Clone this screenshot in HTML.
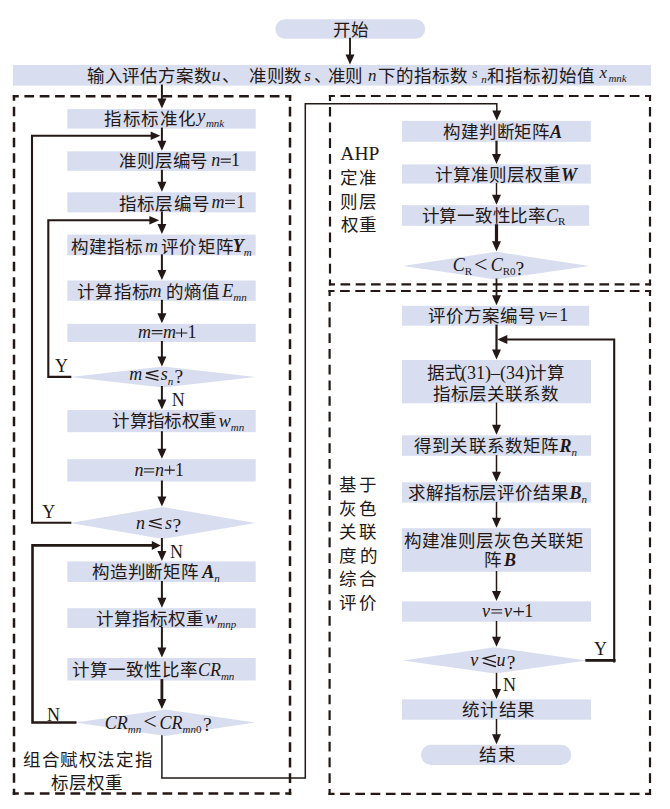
<!DOCTYPE html>
<html lang="zh-CN"><head><meta charset="utf-8"><title>flowchart</title>
<style>html,body{margin:0;padding:0;background:#fff;overflow:hidden}svg{display:block;font-family:"Liberation Serif",serif}text{fill:#231815}</style>
</head><body>
<svg width="670" height="809" viewBox="0 0 670 809">
<rect x="275.3" y="19.2" width="149.9" height="19.6" rx="9.8" fill="#d8def0"/>
<rect x="12.9" y="65" width="638.1" height="20.6" rx="0" fill="#d8def0"/>
<rect x="67.3" y="109.1" width="188.4" height="19.5" rx="0" fill="#d8def0"/>
<rect x="67.3" y="151.3" width="188.4" height="19.5" rx="0" fill="#d8def0"/>
<rect x="67.3" y="192.3" width="188.4" height="20.1" rx="0" fill="#d8def0"/>
<rect x="67.3" y="234.6" width="188.4" height="20.7" rx="0" fill="#d8def0"/>
<rect x="67.3" y="280.5" width="188.4" height="20.3" rx="0" fill="#d8def0"/>
<rect x="67.3" y="323.8" width="188.4" height="18.2" rx="0" fill="#d8def0"/>
<rect x="67.3" y="410" width="188.4" height="22.2" rx="0" fill="#d8def0"/>
<rect x="67.3" y="459.2" width="188.4" height="22.3" rx="0" fill="#d8def0"/>
<rect x="67.3" y="561.4" width="188.4" height="20.6" rx="0" fill="#d8def0"/>
<rect x="67.3" y="608.2" width="188.4" height="19.8" rx="0" fill="#d8def0"/>
<rect x="67.3" y="658" width="188.4" height="22.5" rx="0" fill="#d8def0"/>
<path d="M70.3 377L162.95 366.5L255.6 377L162.95 387.5Z" fill="#d8def0"/>
<path d="M70.3 523L162.8 507L255.3 523L162.8 539Z" fill="#d8def0"/>
<path d="M75.2 722.6L165.25 709.5L255.3 722.6L165.25 735.9Z" fill="#d8def0"/>
<rect x="402" y="120.9" width="188.8" height="20.9" rx="0" fill="#d8def0"/>
<rect x="402" y="164.4" width="188.8" height="19.2" rx="0" fill="#d8def0"/>
<rect x="402" y="205.2" width="187.2" height="20.6" rx="0" fill="#d8def0"/>
<rect x="402" y="305.8" width="187.2" height="19.9" rx="0" fill="#d8def0"/>
<rect x="402" y="360" width="189" height="43.3" rx="0" fill="#d8def0"/>
<rect x="402" y="435.3" width="189" height="20.5" rx="0" fill="#d8def0"/>
<rect x="402" y="482.3" width="189" height="20.3" rx="0" fill="#d8def0"/>
<rect x="402" y="528.2" width="189" height="43.6" rx="0" fill="#d8def0"/>
<rect x="402" y="601.4" width="189" height="20.3" rx="0" fill="#d8def0"/>
<rect x="402" y="699.4" width="189" height="20.3" rx="0" fill="#d8def0"/>
<path d="M403 266L496.15 251.8L589.3 266L496.15 279.4Z" fill="#d8def0"/>
<path d="M402.8 660.4L494.75 647.3L586.7 660.4L494.75 673.6Z" fill="#d8def0"/>
<rect x="421" y="744.8" width="150.2" height="20.2" rx="10" fill="#d8def0"/>
<path d="M12.75 96.3L291.25 96.3" stroke="#231815" stroke-width="2.5" stroke-dasharray="6.00,5.64,9.70,5.64,9.70,5.64,9.70,5.64,9.70,5.64,9.70,5.64,9.70,5.64,9.70,5.64,9.70,5.64,9.70,5.64,9.70,5.64,9.70,5.64,9.70,5.64,9.70,5.64,9.70,5.64,9.70,5.64,9.70,5.64,9.70,5.64,8.00" fill="none"/>
<path d="M290 95.05L290 794.65" stroke="#231815" stroke-width="2.5" stroke-dasharray="6.00,5.80,9.70,5.80,9.70,5.80,9.70,5.80,9.70,5.80,9.70,5.80,9.70,5.80,9.70,5.80,9.70,5.80,9.70,5.80,9.70,5.80,9.70,5.80,9.70,5.80,9.70,5.80,9.70,5.80,9.70,5.80,9.70,5.80,9.70,5.80,9.70,5.80,9.70,5.80,9.70,5.80,9.70,5.80,9.70,5.80,9.70,5.80,9.70,5.80,9.70,5.80,9.70,5.80,9.70,5.80,9.70,5.80,9.70,5.80,9.70,5.80,9.70,5.80,9.70,5.80,9.70,5.80,9.70,5.80,9.70,5.80,9.70,5.80,9.70,5.80,9.70,5.80,9.70,5.80,9.70,5.80,9.70,5.80,9.70,5.80,9.70,5.80,9.70,5.80,8.00" fill="none"/>
<path d="M291.25 793.4L12.75 793.4" stroke="#231815" stroke-width="2.5" stroke-dasharray="6.00,5.64,9.70,5.64,9.70,5.64,9.70,5.64,9.70,5.64,9.70,5.64,9.70,5.64,9.70,5.64,9.70,5.64,9.70,5.64,9.70,5.64,9.70,5.64,9.70,5.64,9.70,5.64,9.70,5.64,9.70,5.64,9.70,5.64,9.70,5.64,8.00" fill="none"/>
<path d="M14 794.65L14 95.05" stroke="#231815" stroke-width="2.5" stroke-dasharray="6.00,5.80,9.70,5.80,9.70,5.80,9.70,5.80,9.70,5.80,9.70,5.80,9.70,5.80,9.70,5.80,9.70,5.80,9.70,5.80,9.70,5.80,9.70,5.80,9.70,5.80,9.70,5.80,9.70,5.80,9.70,5.80,9.70,5.80,9.70,5.80,9.70,5.80,9.70,5.80,9.70,5.80,9.70,5.80,9.70,5.80,9.70,5.80,9.70,5.80,9.70,5.80,9.70,5.80,9.70,5.80,9.70,5.80,9.70,5.80,9.70,5.80,9.70,5.80,9.70,5.80,9.70,5.80,9.70,5.80,9.70,5.80,9.70,5.80,9.70,5.80,9.70,5.80,9.70,5.80,9.70,5.80,9.70,5.80,9.70,5.80,9.70,5.80,9.70,5.80,8.00" fill="none"/>
<path d="M328.9 96L651.1 96" stroke="#231815" stroke-width="2.2" stroke-dasharray="6.00,5.53,9.70,5.53,9.70,5.53,9.70,5.53,9.70,5.53,9.70,5.53,9.70,5.53,9.70,5.53,9.70,5.53,9.70,5.53,9.70,5.53,9.70,5.53,9.70,5.53,9.70,5.53,9.70,5.53,9.70,5.53,9.70,5.53,9.70,5.53,9.70,5.53,9.70,5.53,9.70,5.53,8.00" fill="none"/>
<path d="M650 94.9L650 285.5" stroke="#231815" stroke-width="2.2" stroke-dasharray="6.00,5.99,9.70,5.99,9.70,5.99,9.70,5.99,9.70,5.99,9.70,5.99,9.70,5.99,9.70,5.99,9.70,5.99,9.70,5.99,9.70,5.99,9.70,5.99,8.00" fill="none"/>
<path d="M651.1 284.4L328.9 284.4" stroke="#231815" stroke-width="2.2" stroke-dasharray="6.00,5.53,9.70,5.53,9.70,5.53,9.70,5.53,9.70,5.53,9.70,5.53,9.70,5.53,9.70,5.53,9.70,5.53,9.70,5.53,9.70,5.53,9.70,5.53,9.70,5.53,9.70,5.53,9.70,5.53,9.70,5.53,9.70,5.53,9.70,5.53,9.70,5.53,9.70,5.53,9.70,5.53,8.00" fill="none"/>
<path d="M330 285.5L330 94.9" stroke="#231815" stroke-width="2.2" stroke-dasharray="6.00,5.99,9.70,5.99,9.70,5.99,9.70,5.99,9.70,5.99,9.70,5.99,9.70,5.99,9.70,5.99,9.70,5.99,9.70,5.99,9.70,5.99,9.70,5.99,8.00" fill="none"/>
<path d="M328.5 291L651.1 291" stroke="#231815" stroke-width="2.2" stroke-dasharray="6.00,5.55,9.70,5.55,9.70,5.55,9.70,5.55,9.70,5.55,9.70,5.55,9.70,5.55,9.70,5.55,9.70,5.55,9.70,5.55,9.70,5.55,9.70,5.55,9.70,5.55,9.70,5.55,9.70,5.55,9.70,5.55,9.70,5.55,9.70,5.55,9.70,5.55,9.70,5.55,9.70,5.55,8.00" fill="none"/>
<path d="M650 289.9L650 794.9" stroke="#231815" stroke-width="2.2" stroke-dasharray="6.00,6.01,9.70,6.01,9.70,6.01,9.70,6.01,9.70,6.01,9.70,6.01,9.70,6.01,9.70,6.01,9.70,6.01,9.70,6.01,9.70,6.01,9.70,6.01,9.70,6.01,9.70,6.01,9.70,6.01,9.70,6.01,9.70,6.01,9.70,6.01,9.70,6.01,9.70,6.01,9.70,6.01,9.70,6.01,9.70,6.01,9.70,6.01,9.70,6.01,9.70,6.01,9.70,6.01,9.70,6.01,9.70,6.01,9.70,6.01,9.70,6.01,9.70,6.01,8.00" fill="none"/>
<path d="M651.1 793.8L328.5 793.8" stroke="#231815" stroke-width="2.2" stroke-dasharray="6.00,5.55,9.70,5.55,9.70,5.55,9.70,5.55,9.70,5.55,9.70,5.55,9.70,5.55,9.70,5.55,9.70,5.55,9.70,5.55,9.70,5.55,9.70,5.55,9.70,5.55,9.70,5.55,9.70,5.55,9.70,5.55,9.70,5.55,9.70,5.55,9.70,5.55,9.70,5.55,9.70,5.55,8.00" fill="none"/>
<path d="M329.6 794.9L329.6 289.9" stroke="#231815" stroke-width="2.2" stroke-dasharray="6.00,6.01,9.70,6.01,9.70,6.01,9.70,6.01,9.70,6.01,9.70,6.01,9.70,6.01,9.70,6.01,9.70,6.01,9.70,6.01,9.70,6.01,9.70,6.01,9.70,6.01,9.70,6.01,9.70,6.01,9.70,6.01,9.70,6.01,9.70,6.01,9.70,6.01,9.70,6.01,9.70,6.01,9.70,6.01,9.70,6.01,9.70,6.01,9.70,6.01,9.70,6.01,9.70,6.01,9.70,6.01,9.70,6.01,9.70,6.01,9.70,6.01,9.70,6.01,8.00" fill="none"/>
<path d="M350 38.8 L350 56.5" fill="none" stroke="#231815" stroke-width="1.9" stroke-linejoin="miter" stroke-linecap="square"/>
<path d="M350 64.5 L345.5 54.5 L354.5 54.5Z" fill="#231815"/>
<path d="M161.9 85.6 L161.9 100.6" fill="none" stroke="#231815" stroke-width="2" stroke-linejoin="miter" stroke-linecap="square"/>
<path d="M161.9 108.6 L157.4 98.6 L166.4 98.6Z" fill="#231815"/>
<path d="M161.9 128.6 L161.9 142.8" fill="none" stroke="#231815" stroke-width="2" stroke-linejoin="miter" stroke-linecap="square"/>
<path d="M161.9 150.8 L157.4 140.8 L166.4 140.8Z" fill="#231815"/>
<path d="M161.9 170.8 L161.9 183.8" fill="none" stroke="#231815" stroke-width="2" stroke-linejoin="miter" stroke-linecap="square"/>
<path d="M161.9 191.8 L157.4 181.8 L166.4 181.8Z" fill="#231815"/>
<path d="M161.9 212.4 L161.9 226.1" fill="none" stroke="#231815" stroke-width="2" stroke-linejoin="miter" stroke-linecap="square"/>
<path d="M161.9 234.1 L157.4 224.1 L166.4 224.1Z" fill="#231815"/>
<path d="M161.9 255.3 L161.9 272.0" fill="none" stroke="#231815" stroke-width="2" stroke-linejoin="miter" stroke-linecap="square"/>
<path d="M161.9 280.0 L157.4 270.0 L166.4 270.0Z" fill="#231815"/>
<path d="M161.9 300.8 L161.9 315.3" fill="none" stroke="#231815" stroke-width="2" stroke-linejoin="miter" stroke-linecap="square"/>
<path d="M161.9 323.3 L157.4 313.3 L166.4 313.3Z" fill="#231815"/>
<path d="M161.9 342 L161.9 358.5" fill="none" stroke="#231815" stroke-width="2" stroke-linejoin="miter" stroke-linecap="square"/>
<path d="M161.9 366.5 L157.4 356.5 L166.4 356.5Z" fill="#231815"/>
<path d="M161.9 387 L161.9 401.5" fill="none" stroke="#231815" stroke-width="2" stroke-linejoin="miter" stroke-linecap="square"/>
<path d="M161.9 409.5 L157.4 399.5 L166.4 399.5Z" fill="#231815"/>
<path d="M161.9 432.2 L161.9 450.7" fill="none" stroke="#231815" stroke-width="2" stroke-linejoin="miter" stroke-linecap="square"/>
<path d="M161.9 458.7 L157.4 448.7 L166.4 448.7Z" fill="#231815"/>
<path d="M161.9 481.5 L161.9 498.5" fill="none" stroke="#231815" stroke-width="2" stroke-linejoin="miter" stroke-linecap="square"/>
<path d="M161.9 506.5 L157.4 496.5 L166.4 496.5Z" fill="#231815"/>
<path d="M161.9 539 L161.9 552.9" fill="none" stroke="#231815" stroke-width="2" stroke-linejoin="miter" stroke-linecap="square"/>
<path d="M161.9 560.9 L157.4 550.9 L166.4 550.9Z" fill="#231815"/>
<path d="M161.9 582 L161.9 599.7" fill="none" stroke="#231815" stroke-width="2" stroke-linejoin="miter" stroke-linecap="square"/>
<path d="M161.9 607.7 L157.4 597.7 L166.4 597.7Z" fill="#231815"/>
<path d="M161.9 628 L161.9 649.5" fill="none" stroke="#231815" stroke-width="2" stroke-linejoin="miter" stroke-linecap="square"/>
<path d="M161.9 657.5 L157.4 647.5 L166.4 647.5Z" fill="#231815"/>
<path d="M161.9 680.5 L161.9 701.0" fill="none" stroke="#231815" stroke-width="2.8" stroke-linejoin="miter" stroke-linecap="square"/>
<path d="M161.9 709.0 L157.4 699.0 L166.4 699.0Z" fill="#231815"/>
<path d="M70.3 522.8 L32 522.8 L32 135.8 L151.9 135.8" fill="none" stroke="#231815" stroke-width="2.1" stroke-linejoin="miter" stroke-linecap="square"/>
<path d="M160.3 135.8 L150.70000000000002 131.5 L150.70000000000002 140.10000000000002Z" fill="#231815"/>
<path d="M70.3 376.9 L48.3 376.9 L48.3 220.2 L150.9 220.2" fill="none" stroke="#231815" stroke-width="2.1" stroke-linejoin="miter" stroke-linecap="square"/>
<path d="M159.20000000000002 220.2 L149.4 215.89999999999998 L149.4 224.5Z" fill="#231815"/>
<path d="M75.2 722.5 L32.5 722.5 L32.5 545.4 L151.9 545.4" fill="none" stroke="#231815" stroke-width="2.6" stroke-linejoin="miter" stroke-linecap="square"/>
<path d="M160.8 545.4 L151.8 540.9 L151.8 549.9Z" fill="#231815"/>
<path d="M161.9 735.9 L161.9 778 L305.3 778 L305.3 103.8 L496.8 103.8 L496.8 112" fill="none" stroke="#231815" stroke-width="1.5" stroke-linejoin="miter" stroke-linecap="square"/>
<path d="M496.8 120.6 L492.3 110.6 L501.3 110.6Z" fill="#231815"/>
<path d="M496.5 141.8 L496.5 155.9" fill="none" stroke="#231815" stroke-width="2.2" stroke-linejoin="miter" stroke-linecap="square"/>
<path d="M496.5 163.9 L492.0 153.9 L501.0 153.9Z" fill="#231815"/>
<path d="M496.5 183.6 L496.5 196.7" fill="none" stroke="#231815" stroke-width="1.4" stroke-linejoin="miter" stroke-linecap="square"/>
<path d="M496.5 204.7 L492.0 194.7 L501.0 194.7Z" fill="#231815"/>
<path d="M496.5 225.8 L496.5 243.3" fill="none" stroke="#231815" stroke-width="3.2" stroke-linejoin="miter" stroke-linecap="square"/>
<path d="M496.5 251.3 L492.0 241.3 L501.0 241.3Z" fill="#231815"/>
<path d="M496.5 279.4 L496.5 297.3" fill="none" stroke="#231815" stroke-width="1.8" stroke-linejoin="miter" stroke-linecap="square"/>
<path d="M496.5 305.3 L492.0 295.3 L501.0 295.3Z" fill="#231815"/>
<path d="M496.5 325.7 L496.5 351.5" fill="none" stroke="#231815" stroke-width="2.2" stroke-linejoin="miter" stroke-linecap="square"/>
<path d="M496.5 359.5 L492.0 349.5 L501.0 349.5Z" fill="#231815"/>
<path d="M496.5 403.3 L496.5 426.8" fill="none" stroke="#231815" stroke-width="1.4" stroke-linejoin="miter" stroke-linecap="square"/>
<path d="M496.5 434.8 L492.0 424.8 L501.0 424.8Z" fill="#231815"/>
<path d="M496.5 455.8 L496.5 473.8" fill="none" stroke="#231815" stroke-width="1.5" stroke-linejoin="miter" stroke-linecap="square"/>
<path d="M496.5 481.8 L492.0 471.8 L501.0 471.8Z" fill="#231815"/>
<path d="M496.5 502.6 L496.5 519.7" fill="none" stroke="#231815" stroke-width="1.5" stroke-linejoin="miter" stroke-linecap="square"/>
<path d="M496.5 527.7 L492.0 517.7 L501.0 517.7Z" fill="#231815"/>
<path d="M496.5 571.8 L496.5 592.9" fill="none" stroke="#231815" stroke-width="1.5" stroke-linejoin="miter" stroke-linecap="square"/>
<path d="M496.5 600.9 L492.0 590.9 L501.0 590.9Z" fill="#231815"/>
<path d="M496.5 621.7 L496.5 638.8" fill="none" stroke="#231815" stroke-width="1.5" stroke-linejoin="miter" stroke-linecap="square"/>
<path d="M496.5 646.8 L492.0 636.8 L501.0 636.8Z" fill="#231815"/>
<path d="M496.5 673.6 L496.5 690.9" fill="none" stroke="#231815" stroke-width="1.5" stroke-linejoin="miter" stroke-linecap="square"/>
<path d="M496.5 698.9 L492.0 688.9 L501.0 688.9Z" fill="#231815"/>
<path d="M496.5 719.7 L496.5 736.3" fill="none" stroke="#231815" stroke-width="1.5" stroke-linejoin="miter" stroke-linecap="square"/>
<path d="M496.5 744.3 L492.0 734.3 L501.0 734.3Z" fill="#231815"/>
<path d="M586.7 660.4 L614.2 660.4" fill="none" stroke="#231815" stroke-width="2.8" stroke-linejoin="miter" stroke-linecap="square"/>
<path d="M614.2 661.5 L614.2 339.5 L505.5 339.5" fill="none" stroke="#231815" stroke-width="2.1" stroke-linejoin="miter" stroke-linecap="square"/>
<path d="M497.3 339.5 L507.3 335.0 L507.3 344.0Z" fill="#231815"/>
<path d="M220.7 159.1H230.8M220.7 162.29999999999998H230.8" stroke="#231815" stroke-width="1.05" fill="none"/>
<path d="M225.1 200.3H234.9M225.1 203.5H234.9" stroke="#231815" stroke-width="1.05" fill="none"/>
<path d="M151.8 330.59999999999997H162.5M151.8 333.8H162.5" stroke="#231815" stroke-width="1.05" fill="none"/>
<path d="M175.7 332.9H187.3M181.5 328.59999999999997V337.2" stroke="#231815" stroke-width="1.05" fill="none"/>
<path d="M157.90 370.70L146.10 373.24L157.90 376.70M145.90 377.13L157.90 380.10" fill="none" stroke="#231815" stroke-width="1.35" stroke-linecap="round" stroke-linejoin="miter"/>
<path d="M143.9 468.7H154.2M143.9 471.90000000000003H154.2" stroke="#231815" stroke-width="1.05" fill="none"/>
<path d="M164.5 470.1H174.8M169.65 465.6V474.6" stroke="#231815" stroke-width="1.05" fill="none"/>
<path d="M161.20 518.80L149.40 521.37L161.20 524.86M149.20 525.29L161.20 528.30" fill="none" stroke="#231815" stroke-width="1.35" stroke-linecap="round" stroke-linejoin="miter"/>
<path d="M547.1 313.5H556.9M547.1 316.70000000000005H556.9" stroke="#231815" stroke-width="1.05" fill="none"/>
<path d="M491.4 609.6999999999999H502.2M491.4 612.9H502.2" stroke="#231815" stroke-width="1.05" fill="none"/>
<path d="M513.4 611.6H524.1M518.75 607.35V615.85" stroke="#231815" stroke-width="1.05" fill="none"/>
<path d="M495.40 655.40L483.60 658.45L495.40 662.45M483.40 662.95L495.40 666.50" fill="none" stroke="#231815" stroke-width="1.35" stroke-linecap="round" stroke-linejoin="miter"/>
<text x="333.00" y="35.8" letter-spacing="0.70"><tspan font-size="17.5">开始</tspan></text>
<text x="86.80" y="82" letter-spacing="0.80"><tspan font-size="17.5">输入评估方案数</tspan></text>
<text x="211.50" y="81"><tspan font-size="18" font-style="italic">u</tspan></text>
<text x="221.80" y="82"><tspan font-size="17.5">、</tspan></text>
<text x="248.70" y="82" letter-spacing="0.90"><tspan font-size="17.5">准则数</tspan></text>
<text x="304.20" y="81.4"><tspan font-size="17" font-style="italic">s</tspan></text>
<text x="313.60" y="82"><tspan font-size="17.5">、</tspan></text>
<text x="328.10" y="82"><tspan font-size="17.5">准则</tspan></text>
<text x="368.10" y="81.4"><tspan font-size="17" font-style="italic">n</tspan></text>
<text x="377.80" y="82" letter-spacing="1.02"><tspan font-size="17.5">下的指标数</tspan></text>
<text x="472.10" y="78.1"><tspan font-size="14" font-style="italic">s</tspan></text>
<text x="481.20" y="83"><tspan font-size="11" font-style="italic">n</tspan></text>
<text x="487.40" y="82" letter-spacing="0.92"><tspan font-size="17.5">和指标初始值</tspan></text>
<text x="599.40" y="77.7"><tspan font-size="17" font-style="italic">x</tspan></text>
<text x="608.40" y="81.9"><tspan font-size="11" font-style="italic">mnk</tspan></text>
<text x="104.30" y="125.3" letter-spacing="1.50"><tspan font-size="17.5">指标标准化</tspan></text>
<text x="197.20" y="122.2"><tspan font-size="18" font-style="italic">y</tspan></text>
<text x="205.90" y="126.5"><tspan font-size="11" font-style="italic">mnk</tspan></text>
<text x="119.30" y="166.7" letter-spacing="0.75"><tspan font-size="17.5">准则层编号</tspan></text>
<text x="211.20" y="165.9"><tspan font-size="18" font-style="italic">n</tspan></text>
<text x="231.00" y="165.9"><tspan font-size="18">1</tspan></text>
<text x="119.30" y="209.5" letter-spacing="1.07"><tspan font-size="17.5">指标层编号</tspan></text>
<text x="211.40" y="207.9"><tspan font-size="18" font-style="italic">m</tspan></text>
<text x="236.20" y="208"><tspan font-size="18">1</tspan></text>
<text x="71.30" y="252.5" letter-spacing="0.97"><tspan font-size="17.5">构建指标</tspan></text>
<text x="145.00" y="252"><tspan font-size="18" font-style="italic">m</tspan></text>
<text x="161.00" y="252.5" letter-spacing="1.43"><tspan font-size="17.5">评价矩阵</tspan></text>
<text x="232.80" y="251.5"><tspan font-size="18" font-style="italic" font-weight="bold">Y</tspan><tspan font-size="11" font-style="italic" dy="4">m</tspan></text>
<text x="77.10" y="297.5" letter-spacing="1.30"><tspan font-size="17.5">计算指标</tspan></text>
<text x="148.40" y="297"><tspan font-size="18" font-style="italic">m</tspan></text>
<text x="165.90" y="297.5" letter-spacing="0.95"><tspan font-size="17.5">的熵值</tspan></text>
<text x="222.20" y="297"><tspan font-size="18" font-style="italic">E</tspan><tspan font-size="11" font-style="italic" dy="4">mn</tspan></text>
<text x="138.10" y="337.7"><tspan font-size="18" font-style="italic">m</tspan></text>
<text x="163.00" y="337.7"><tspan font-size="18" font-style="italic">m</tspan></text>
<text x="187.40" y="337.9"><tspan font-size="18">1</tspan></text>
<text x="129.20" y="380.3"><tspan font-size="18" font-style="italic">m</tspan></text>
<text x="160.70" y="380.3"><tspan font-size="18" font-style="italic">s</tspan><tspan font-size="11" font-style="italic" dy="4.9">n</tspan></text>
<text x="174.40" y="383"><tspan font-size="19.5">?</tspan></text>
<text x="112.10" y="427.4" letter-spacing="0.42"><tspan font-size="17.5">计算指标权重</tspan></text>
<text x="218.70" y="427"><tspan font-size="18" font-style="italic">w</tspan><tspan font-size="11" font-style="italic" dy="4">mn</tspan></text>
<text x="134.40" y="475.5"><tspan font-size="18" font-style="italic">n</tspan></text>
<text x="155.00" y="475.5"><tspan font-size="18" font-style="italic">n</tspan></text>
<text x="175.00" y="475.7"><tspan font-size="18">1</tspan></text>
<text x="136.10" y="529"><tspan font-size="18" font-style="italic">n</tspan></text>
<text x="165.00" y="529"><tspan font-size="18" font-style="italic">s</tspan></text>
<text x="172.40" y="532"><tspan font-size="19.5">?</tspan></text>
<text x="91.60" y="577.8" letter-spacing="0.96"><tspan font-size="17.5">构造判断矩阵</tspan></text>
<text x="202.20" y="577.5"><tspan font-size="18" font-style="italic" font-weight="bold">A</tspan><tspan font-size="11" font-style="italic" dy="4">n</tspan></text>
<text x="96.00" y="624.5" letter-spacing="0.96"><tspan font-size="17.5">计算指标权重</tspan></text>
<text x="205.20" y="624"><tspan font-size="18" font-style="italic">w</tspan><tspan font-size="11" font-style="italic" dy="4">mnp</tspan></text>
<text x="72.10" y="676" letter-spacing="0.98"><tspan font-size="17.5">计算一致性比率</tspan></text>
<text x="197.90" y="675.8"><tspan font-size="18" font-style="italic">CR</tspan><tspan font-size="11" font-style="italic" dy="4">mn</tspan></text>
<text x="104.70" y="728.5"><tspan font-size="18" font-style="italic">CR</tspan><tspan font-size="11" font-style="italic" dy="4">mn</tspan></text>
<text x="143.20" y="729"><tspan font-size="24">&lt;</tspan></text>
<text x="159.50" y="728.5"><tspan font-size="18" font-style="italic">CR</tspan><tspan font-size="11" font-style="italic" dy="4">mn</tspan><tspan font-size="11">0</tspan></text>
<text x="203.10" y="731"><tspan font-size="19.5">?</tspan></text>
<text x="23.00" y="765.9" letter-spacing="1.60"><tspan font-size="17.5">组合赋权法定指</tspan></text>
<text x="51.00" y="788.7" letter-spacing="1.10"><tspan font-size="17.5">标层权重</tspan></text>
<text x="55.00" y="372"><tspan font-size="18">Y</tspan></text>
<text x="171.80" y="406"><tspan font-size="18">N</tspan></text>
<text x="42.30" y="518"><tspan font-size="18">Y</tspan></text>
<text x="170.00" y="557.7"><tspan font-size="18">N</tspan></text>
<text x="47.00" y="721"><tspan font-size="18">N</tspan></text>
<text x="594.00" y="655"><tspan font-size="18">Y</tspan></text>
<text x="503.00" y="691"><tspan font-size="18">N</tspan></text>
<text x="340.30" y="160.3"><tspan font-size="19.5">AHP</tspan></text>
<text x="339.80" y="184" letter-spacing="2.20"><tspan font-size="17.5">定准</tspan></text>
<text x="339.80" y="208.4" letter-spacing="2.20"><tspan font-size="17.5">则层</tspan></text>
<text x="340.80" y="231.4" letter-spacing="1.20"><tspan font-size="17.5">权重</tspan></text>
<text x="442.70" y="137.8" letter-spacing="0.94"><tspan font-size="17.5">构建判断矩阵</tspan></text>
<text x="550.00" y="137.5"><tspan font-size="18" font-style="italic" font-weight="bold">A</tspan></text>
<text x="435.40" y="180.9" letter-spacing="0.87"><tspan font-size="17.5">计算准则层权重</tspan></text>
<text x="561.00" y="180.5"><tspan font-size="18" font-style="italic" font-weight="bold">W</tspan></text>
<text x="421.70" y="221.9" letter-spacing="0.72"><tspan font-size="17.5">计算一致性比率</tspan></text>
<text x="546.00" y="221.5"><tspan font-size="18" font-style="italic">C</tspan><tspan font-size="11" dy="3.4">R</tspan></text>
<text x="452.80" y="271.3"><tspan font-size="18" font-style="italic">C</tspan><tspan font-size="11" dy="4">R</tspan></text>
<text x="474.10" y="271.8"><tspan font-size="24">&lt;</tspan></text>
<text x="490.70" y="271.3"><tspan font-size="18" font-style="italic">C</tspan><tspan font-size="11" dy="4">R0</tspan></text>
<text x="515.40" y="274.5"><tspan font-size="19.5">?</tspan></text>
<text x="428.10" y="322.2" letter-spacing="0.96"><tspan font-size="17.5">评价方案编号</tspan></text>
<text x="538.70" y="320.8"><tspan font-size="18" font-style="italic">v</tspan></text>
<text x="559.20" y="320.9"><tspan font-size="18">1</tspan></text>
<text x="426.80" y="379" letter-spacing="1.60"><tspan font-size="17.5">据式</tspan></text>
<text x="461.10" y="379"><tspan font-size="18">(31)–(34)</tspan></text>
<text x="528.70" y="379" letter-spacing="1.60"><tspan font-size="17.5">计算</tspan></text>
<text x="432.90" y="400.4" letter-spacing="1.02"><tspan font-size="17.5">指标层关联系数</tspan></text>
<text x="414.10" y="452.2" letter-spacing="1.16"><tspan font-size="17.5">得到关联系数矩阵</tspan></text>
<text x="559.50" y="452"><tspan font-size="18" font-style="italic" font-weight="bold">R</tspan><tspan font-size="11" font-style="italic" dy="4">n</tspan></text>
<text x="407.70" y="498.8" letter-spacing="0.95"><tspan font-size="17.5">求解指标层评价结果</tspan></text>
<text x="569.40" y="498.5"><tspan font-size="18" font-style="italic" font-weight="bold">B</tspan><tspan font-size="11" font-style="italic" dy="4">n</tspan></text>
<text x="404.00" y="547.1" letter-spacing="0.96"><tspan font-size="17.5">构建准则层灰色关联矩</tspan></text>
<text x="484.00" y="566"><tspan font-size="17.5">阵</tspan></text>
<text x="504.00" y="565.8"><tspan font-size="18" font-style="italic" font-weight="bold">B</tspan></text>
<text x="481.90" y="616.8"><tspan font-size="18" font-style="italic">v</tspan></text>
<text x="503.90" y="616.8"><tspan font-size="18" font-style="italic">v</tspan></text>
<text x="524.30" y="616.8"><tspan font-size="18">1</tspan></text>
<text x="470.30" y="666.3"><tspan font-size="18" font-style="italic">v</tspan></text>
<text x="496.50" y="666.3"><tspan font-size="18" font-style="italic">u</tspan></text>
<text x="506.70" y="669.3"><tspan font-size="19.5">?</tspan></text>
<text x="461.60" y="716.4" letter-spacing="1.57"><tspan font-size="17.5">统计结果</tspan></text>
<text x="479.00" y="761.3" letter-spacing="1.50"><tspan font-size="17.5">结束</tspan></text>
<text x="339.30" y="491.2" letter-spacing="2.70"><tspan font-size="17.5">基于</tspan></text>
<text x="339.30" y="514.7" letter-spacing="2.70"><tspan font-size="17.5">灰色</tspan></text>
<text x="339.30" y="538.2" letter-spacing="2.70"><tspan font-size="17.5">关联</tspan></text>
<text x="339.30" y="561.7" letter-spacing="3.70"><tspan font-size="17.5">度的</tspan></text>
<text x="339.30" y="585.2" letter-spacing="2.70"><tspan font-size="17.5">综合</tspan></text>
<text x="339.30" y="608.7" letter-spacing="2.70"><tspan font-size="17.5">评价</tspan></text>
</svg>
</body></html>
